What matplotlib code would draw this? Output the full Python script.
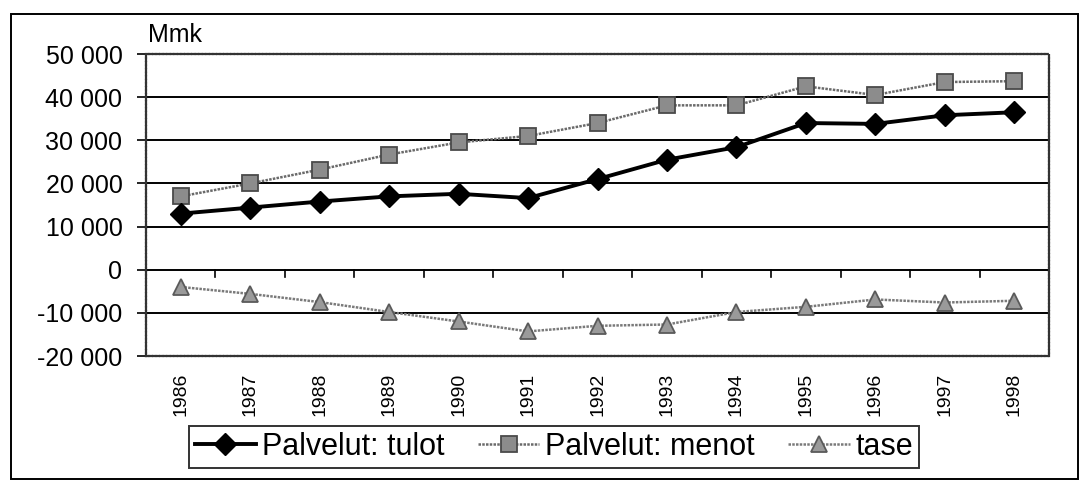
import matplotlib.pyplot as plt
from matplotlib.patches import Rectangle
import numpy as np

plt.rcParams['font.family'] = ['Liberation Sans', 'DejaVu Sans']

years = ['1986', '1987', '1988', '1989', '1990', '1991', '1992',
         '1993', '1994', '1995', '1996', '1997', '1998']
tulot = [13000, 14400, 15800, 17000, 17600, 16600, 21000,
         25500, 28400, 34000, 33800, 35800, 36500]
menot = [17000, 20000, 23200, 26700, 29500, 31000, 34000,
         38100, 38100, 42500, 40500, 43500, 43700]
tase = [-4000, -5600, -7500, -9800, -12000, -14300, -13000,
        -12700, -9800, -8600, -6900, -7600, -7200]
yticks = [50000, 40000, 30000, 20000, 10000, 0, -10000, -20000]

W, H = 1082, 480
fig = plt.figure(figsize=(W / 100, H / 100), dpi=100)
# axes box in pixels: left 146, right 1049, top 54, bottom 356
ax = fig.add_axes([146 / W, 1 - 356 / H, (1049 - 146) / W, (356 - 54) / H])

x = np.arange(len(years))

ax.plot(x, menot, color='#6a6a6a', lw=1.8, ls=(0, (1, 0.5)),
        marker='s', ms=12, mfc='#8c8c8c', mec='#4a4a4a', mew=1.3,
        label='Palvelut: menot', zorder=3)
ax.plot(x, tase, color='#7a7a7a', lw=1.8, ls=(0, (1, 0.5)),
        marker='^', ms=11, mfc='#9a9a9a', mec='#5a5a5a', mew=1.3,
        label='tase', zorder=3)
ax.plot(x, tulot, color='black', lw=2.8, marker='D', ms=11,
        mfc='black', mec='black', label='Palvelut: tulot', zorder=4)

ax.set_xlim(-0.5, len(years) - 0.5)
ax.set_ylim(-20000, 50000)
ax.set_yticks(yticks)
ax.set_yticklabels(['{:,}'.format(v).replace(',', ' ') for v in yticks],
                   fontsize=18)
ax.tick_params(axis='y', length=6.5, width=1.2, pad=10.5, direction='out')

for v in yticks:
    ax.axhline(v, color='black', lw=1.4, zorder=1)

# category tick marks hanging from the zero line
for b in np.arange(0.5, len(years) - 0.5, 1):
    ax.plot([b, b], [0, -1600], color='black', lw=1.2, zorder=2)

ax.set_xticks(x)
ax.set_xticklabels(years, rotation=90, fontsize=14)
ax.tick_params(axis='x', length=0, pad=12)

for s in ax.spines.values():
    s.set_linestyle((0, (1, 0.6)))
    s.set_color('#333333')
    s.set_linewidth(1.6)

fig.text(148 / W, 1 - 42 / H, 'Mmk', fontsize=18, ha='left', va='baseline')

h, l = ax.get_legend_handles_labels()
order = [2, 0, 1]
leg = fig.legend([h[i] for i in order], [l[i] for i in order],
                 loc='center', bbox_to_anchor=(554 / W, 1 - 447 / H), ncol=3,
                 fontsize=22, frameon=True, fancybox=False, edgecolor='black',
                 handlelength=2.0, columnspacing=1.1, handletextpad=0.2,
                 borderpad=0.2, borderaxespad=0)
leg.get_frame().set_linewidth(1.4)

fig.patches.append(Rectangle((11 / W, 1 / H), (1078 - 11) / W, (466 - 1) / H,
                             transform=fig.transFigure, fill=False,
                             edgecolor='black', lw=1.4))

plt.savefig('out.png', dpi=100)
